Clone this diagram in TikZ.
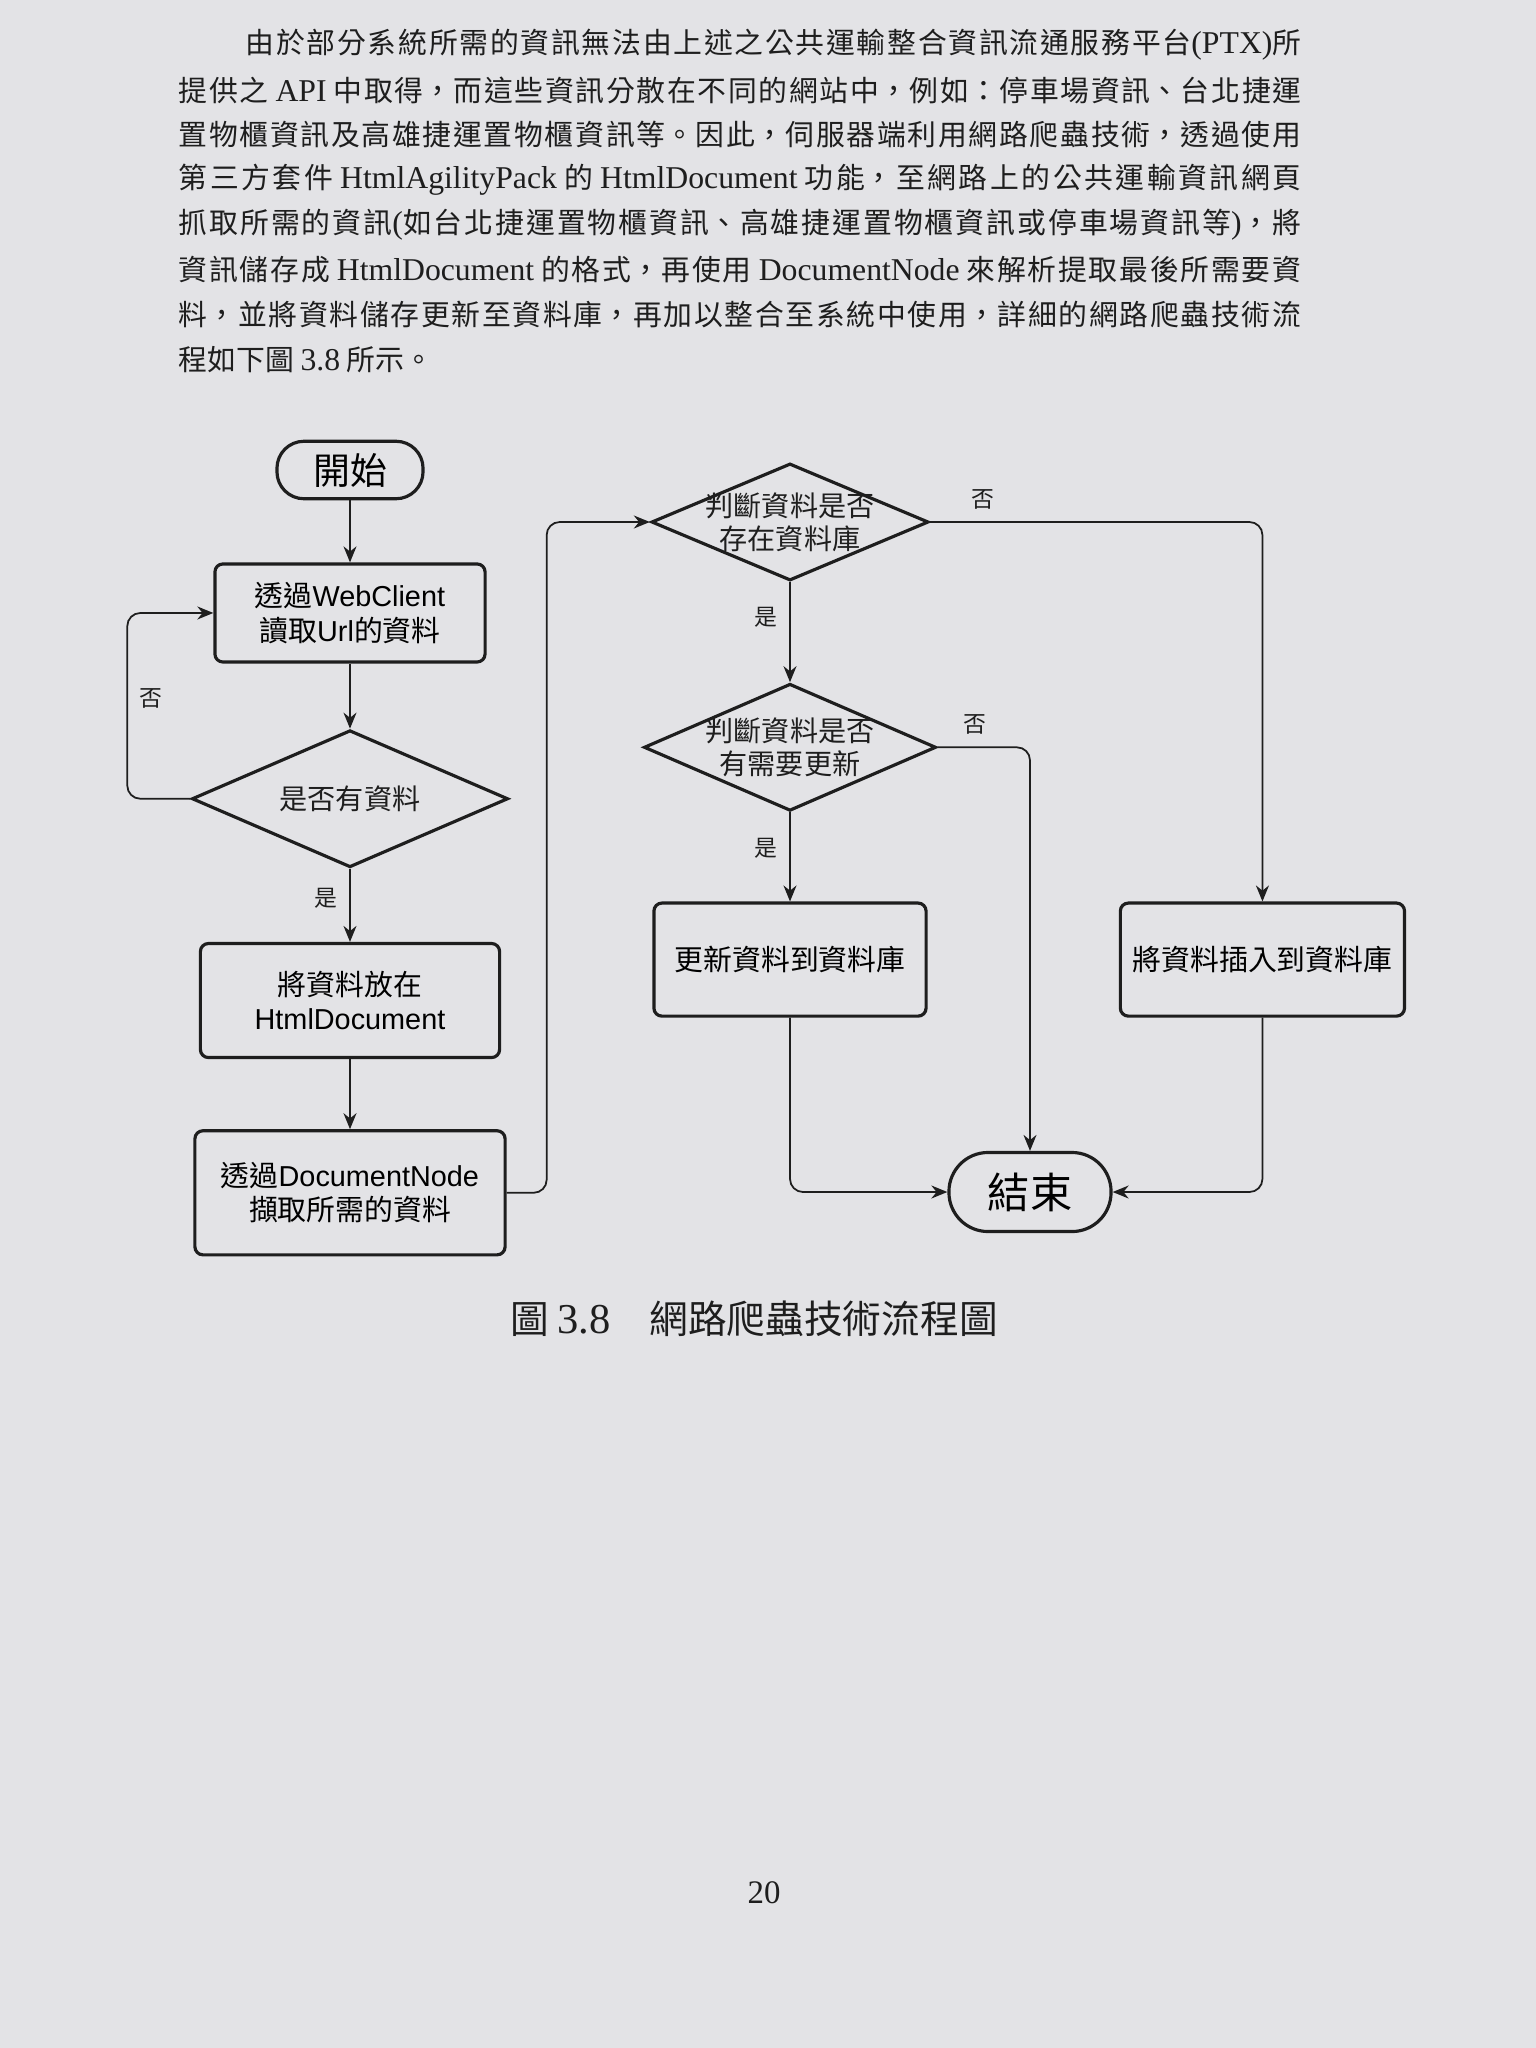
\documentclass[tikz,border=0pt]{standalone}
\usepackage{fontspec}
\setmainfont{Noto Sans CJK TC}
\newfontfamily\lat[Scale=1.1]{Liberation Serif}
\newfontfamily\arial{Liberation Sans}
\XeTeXlinebreaklocale "zh"
\XeTeXlinebreakskip=0pt plus 3pt
\newcommand{\fillend}{\hskip0pt plus -1fil\mbox{}}
\usetikzlibrary{arrows.meta,positioning,shapes.geometric}
\definecolor{Paper}{HTML}{E3E3E6}
\definecolor{Ink}{HTML}{1E1E1E}

\begin{document}
\begin{tikzpicture}[x=0.01cm,y=-0.01cm,
    para/.style={anchor=west,inner sep=0pt,text=Ink,text width=11.22cm,align=justify,font=\fontsize{8.2}{10}\selectfont},
    terminal/.style={rectangle,draw=Ink,line width=0.9pt,align=center,font=\fontsize{10.5}{12}\selectfont},
    block/.style={rectangle,rounded corners=0.8mm,draw=Ink,line width=0.9pt,align=center,font=\fontsize{8.2}{9.8}\selectfont},
    decision/.style={diamond,draw=Ink,line width=0.9pt,inner sep=0pt},
    dtext/.style={align=center,inner sep=0pt,text=Ink,font=\fontsize{8}{9.4}\selectfont},
    arrow/.style={-{Stealth[length=1.6mm,width=1.3mm]},draw=Ink,line width=0.5pt,rounded corners=1.3mm},
    lbl/.style={font=\fontsize{6.5}{7}\selectfont,text=Ink}
]
\useasboundingbox (0,0) rectangle (1536,2048);
\fill[Paper] (0,0) rectangle (1536,2048);

% text above the figure
\node[para,text width=10.55cm] (l1) at (245,45) {由於部分系統所需的資訊無法由上述之公共運輸整合資訊流通服務平台{\lat (PTX)}所\fillend};
\node[para] (l2) at (178,90)  {提供之 {\lat API} 中取得，而這些資訊分散在不同的網站中，例如：停車場資訊、台北捷運\fillend};
\node[para] (l3) at (178,135) {置物櫃資訊及高雄捷運置物櫃資訊等。因此，伺服器端利用網路爬蟲技術，透過使用\fillend};
\node[para] (l4) at (178,180) {第三方套件 {\lat HtmlAgilityPack} 的 {\lat HtmlDocument} 功能，至網路上的公共運輸資訊網頁\fillend};
\node[para] (l5) at (178,225) {抓取所需的資訊{\lat (}如台北捷運置物櫃資訊、高雄捷運置物櫃資訊或停車場資訊等{\lat )}，將\fillend};
\node[para] (l6) at (178,270) {資訊儲存成 {\lat HtmlDocument} 的格式，再使用 {\lat DocumentNode} 來解析提取最後所需要資\fillend};
\node[para] (l7) at (178,315) {料，並將資料儲存更新至資料庫，再加以整合至系統中使用，詳細的網路爬蟲技術流\fillend};
\node[para] (l8) at (178,360) {程如下圖 {\lat 3.8} 所示。};

% flowchart, left column
\node[terminal,rounded corners=0.27cm,minimum width=1.46cm,minimum height=0.55cm] (start) at (350,470) {開始};
\node[block,minimum width=2.70cm,minimum height=0.98cm,below=0.62cm of start] (read) {透過{\arial WebClient}\\讀取{\arial Url}的資料};
\node[decision,minimum width=3.16cm,minimum height=1.37cm,below=0.65cm of read,
      label={[dtext]center:是否有資料}] (has) {};
\node[block,minimum width=2.99cm,minimum height=1.14cm,below=0.73cm of has] (put) {將資料放在\\{\arial HtmlDocument}};
\node[block,minimum width=3.10cm,minimum height=1.24cm,below=0.70cm of put] (parse) {透過{\arial DocumentNode}\\擷取所需的資料};

% flowchart, right part
\node[decision,minimum width=2.77cm,minimum height=1.17cm,
      label={[dtext]center:判斷資料是否\\存在資料庫}] (exist) at (790,522) {};
\node[decision,minimum width=2.92cm,minimum height=1.27cm,below=1.0cm of exist,
      label={[dtext]center:判斷資料是否\\有需要更新}] (need) {};
\node[block,minimum width=2.72cm,minimum height=1.13cm,below=0.89cm of need] (upd) {更新資料到資料庫};
\node[block,minimum width=2.84cm,minimum height=1.13cm,right=1.91cm of upd] (ins) {將資料插入到資料庫};
\node[terminal,rounded corners=0.39cm,minimum width=1.62cm,minimum height=0.79cm,font=\fontsize{12}{14}\selectfont] (end) at (1030,1192) {結束};

\draw[arrow] (start) -- (read);
\draw[arrow] (read) -- (has);
\draw[arrow] (has.west) -- ++(-63,0) |- node[lbl,right,pos=0.27] {否} (read.west);
\draw[arrow] (has) -- node[lbl,left,pos=0.4] {是} (put);
\draw[arrow] (put) -- (parse);
\draw[arrow] (parse.east) -- ++(40,0) |- (exist.west);
\draw[arrow] (exist) -- node[lbl,left,pos=0.35] {是} (need);
\draw[arrow] (exist.east) -| node[lbl,above,pos=0.08] {否} (ins.north);
\draw[arrow] (need) -- node[lbl,left,pos=0.4] {是} (upd);
\draw[arrow] (need.east) -| node[lbl,above,pos=0.2] {否} (end.north);
\draw[arrow] (upd.south) |- (end.west);
\draw[arrow] (ins.south) |- (end.east);

% caption and page number
\node[font=\fontsize{11}{13}\selectfont,text=Ink] (cap) at (754,1319) {圖 {\lat 3.8}\quad 網路爬蟲技術流程圖};
\node[font=\lat\fontsize{8.5}{10}\selectfont,text=Ink] (pg) at (764,1893) {20};
\end{tikzpicture}
\end{document}
